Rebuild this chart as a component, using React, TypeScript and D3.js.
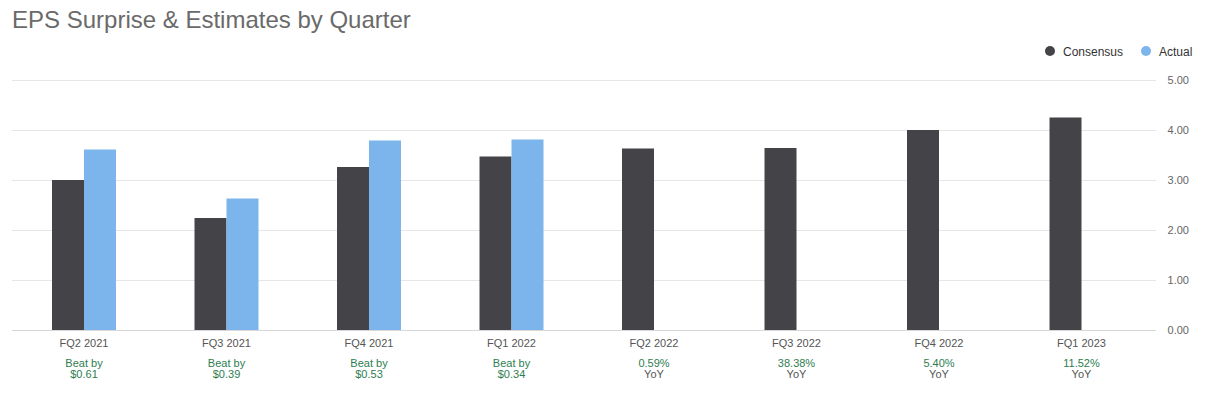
import React from "react";
import * as d3 from "d3";

const quarters = ["FQ2 2021", "FQ3 2021", "FQ4 2021", "FQ1 2022", "FQ2 2022", "FQ3 2022", "FQ4 2022", "FQ1 2023"];
const consensus = [3.0, 2.24, 3.26, 3.47, 3.63, 3.64, 4.0, 4.25];
const actual: (number | null)[] = [3.61, 2.63, 3.79, 3.81, null, null, null, null];
const noteTop = ["Beat by", "Beat by", "Beat by", "Beat by", "0.59%", "38.38%", "5.40%", "11.52%"];
const noteBottom = ["$0.61", "$0.39", "$0.53", "$0.34", "YoY", "YoY", "YoY", "YoY"];
const yTicks = [0, 1, 2, 3, 4, 5];
const seriesNames = ["Consensus", "Actual"];

const W = 1205;
const H = 397;
const COL_C = "#434348";
const COL_A = "#7cb5ec";
const FONT = "'Liberation Sans', Arial, sans-serif";

export default function App() {
  const x = d3.scaleBand<string>().domain(quarters).range([12.75, 1152.75]).paddingInner(0.551).paddingOuter(0.2755);
  const sub = d3.scaleBand<string>().domain(seriesNames).range([0, x.bandwidth()]);
  const y = d3.scaleLinear().domain([0, 5]).range([330, 80]);

  return (
    <svg width={W} height={H} style={{ position: "absolute", left: 0, top: 0, background: "#fff" }} fontFamily={FONT}>
      <text x={12} y={27.5} fontSize={24} fill="#6a6a6a">EPS Surprise &amp; Estimates by Quarter</text>
      {/* legend */}
      <circle cx={1050} cy={51} r={5} fill={COL_C} />
      <text x={1063} y={55.5} fontSize={12} fill="#333333">Consensus</text>
      <circle cx={1146} cy={51} r={5} fill={COL_A} />
      <text x={1159} y={55.5} fontSize={12} fill="#333333">Actual</text>
      {/* grid */}
      {yTicks.map((t) => (
        <g key={t}>
          <line x1={12} x2={1156} y1={Math.round(y(t)) + 0.5} y2={Math.round(y(t)) + 0.5} stroke={t === 0 ? "#d8d8d8" : "#e6e6e6"} strokeWidth={1} />
          <text x={1189} y={y(t) + 4} fontSize={11} fill="#666666" textAnchor="end">{t.toFixed(2)}</text>
        </g>
      ))}
      {/* bars */}
      {quarters.map((q, i) => {
        const x0 = x(q)!;
        const a = actual[i];
        return (
          <g key={q}>
            <rect x={x0 + sub("Consensus")!} y={y(consensus[i])} width={sub.bandwidth()} height={y(0) - y(consensus[i])} fill={COL_C} />
            {a !== null && (
              <rect x={x0 + sub("Actual")!} y={y(a)} width={sub.bandwidth()} height={y(0) - y(a)} fill={COL_A} />
            )}
            <text x={x0 + x.bandwidth() / 2} y={347} fontSize={11} fill="#555555" textAnchor="middle">{q}</text>
            <text x={x0 + x.bandwidth() / 2} y={366.5} fontSize={11} fill="#2e7d4f" textAnchor="middle">{noteTop[i]}</text>
            <text x={x0 + x.bandwidth() / 2} y={377.5} fontSize={11} fill={i < 4 ? "#2e7d4f" : "#555555"} textAnchor="middle">{noteBottom[i]}</text>
          </g>
        );
      })}
    </svg>
  );
}
